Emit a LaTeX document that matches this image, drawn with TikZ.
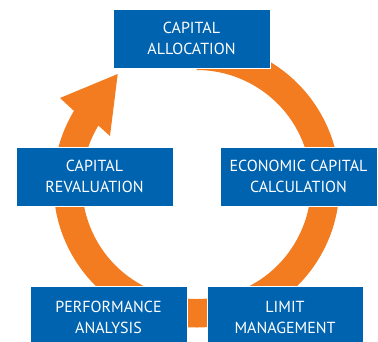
\documentclass[tikz,border=0pt]{standalone}
\usepackage{fontspec}
\setmainfont{PT Sans}
\usetikzlibrary{calc}
\definecolor{boxblue}{RGB}{0,99,175}
\definecolor{ringorange}{RGB}{244,124,32}
\begin{document}
\begin{tikzpicture}[x=1pt,y=1pt,
  stagebox/.style={fill=boxblue, draw=white, line width=0.8pt, text=white, align=center,
    font=\fontsize{16}{21}\selectfont, inner sep=0pt, anchor=center}]
\useasboundingbox (0,0) rectangle (378,-341);
\clip (0,0) rectangle (378,-341);
\coordinate (C) at (196.5,-184.5);
% ring with arrowhead
\fill[ringorange] ($(C)+(90:143)$) arc[start angle=90, end angle=-211, radius=143]
  -- (60,-98) -- (117.7,-74) -- (110,-136)
  -- ($(C)+(149:114.5)$) arc[start angle=149, end angle=450, radius=114.5] -- cycle;
% boxes
\node[stagebox, minimum width=157pt, minimum height=59pt] (alloc) at (191.5,-38.5) {CAPITAL\\ALLOCATION};
\node[stagebox, minimum width=157pt, minimum height=59pt] (reval) at (94.5,-176.5) {CAPITAL\\REVALUATION};
\node[stagebox, minimum width=157pt, minimum height=59pt] (econ) at (298.5,-176.5) {ECONOMIC CAPITAL\\CALCULATION};
\node[stagebox, minimum width=157pt, minimum height=62pt] (perf) at (108.5,-317) {PERFORMANCE\\ANALYSIS};
\node[stagebox, minimum width=156pt, minimum height=62pt] (limit) at (285,-317) {LIMIT\\MANAGEMENT};
\end{tikzpicture}
\end{document}
